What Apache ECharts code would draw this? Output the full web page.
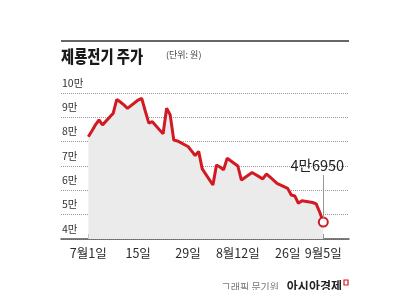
<!DOCTYPE html>
<html><head><meta charset="utf-8">
<script src="https://cdn.jsdelivr.net/npm/echarts@6/dist/echarts.min.js"></script>
<style>html,body{margin:0;padding:0;background:#fff}#c{width:410px;height:290px}</style>
</head><body><div id="c"></div>
<script>
// Trading days (2024) and closing prices (won)
const dates = ['07-01','07-02','07-03','07-04','07-05','07-08','07-09','07-10','07-11','07-12',
  '07-15','07-16','07-17','07-18','07-19','07-22','07-23','07-24','07-25','07-26',
  '07-29','07-30','07-31','08-01','08-02','08-05','08-06','08-07','08-08','08-09',
  '08-12','08-13','08-14','08-16','08-19','08-20','08-21','08-22','08-23',
  '08-26','08-27','08-28','08-29','08-30','09-02','09-03','09-04','09-05'];
const prices = [82000,84400,86900,88900,86900,91700,97400,96300,95100,93700,
  97100,97800,92600,87600,88200,83200,93700,91000,80700,80300,
  78000,76200,74300,76000,68800,62200,70400,69600,68400,73200,
  70000,64200,65300,67300,64700,66700,65500,64200,62900,
  60800,58100,57700,54700,55700,55000,54400,51000,46950];
const xTickDates = ['07-01','07-15','07-29','08-12','08-26','09-05'];
const xTickLabels = ['7월1일','15일','29일','8월12일','26일','9월5일'];
const yTicks = [40000,50000,60000,70000,80000,90000,100000];
const lastLabel = '4만6950';

const base = Date.UTC(2024,6,1);
const dayOf = s => (Date.UTC(2024, +s.slice(0,2)-1, +s.slice(3)) - base)/86400000;
const xs = dates.map(dayOf);
const tickDays = xTickDates.map(dayOf);
const lastX = xs[xs.length-1];
const data = xs.map((x,i)=> i===xs.length-1
  ? {value:[x,prices[i]], symbol:'circle', symbolSize:9,
     itemStyle:{color:'#fff', borderColor:'#d11a22', borderWidth:2}}
  : [x,prices[i]]);

const chart = echarts.init(document.getElementById('c'), null, {renderer:'canvas'});
const F = '"Noto Sans CJK KR", "Noto Sans", sans-serif';
chart.setOption({
  animation:false,
  grid:{left:61, right:61, top:93, bottom:51},
  xAxis:{type:'value', min:-7.667, max:73.22,
    axisLine:{show:true, lineStyle:{color:'#555', width:1.5}},
    axisTick:{show:true, inside:true, length:5, customValues:tickDays, lineStyle:{color:'#777'}},
    axisLabel:{customValues:tickDays, margin:8, fontFamily:F, fontSize:12.5, color:'#2a2a2a',
      formatter:v=>xTickLabels[tickDays.indexOf(v)]},
    splitLine:{show:false}},
  yAxis:{type:'value', min:yTicks[0], max:yTicks[yTicks.length-1], interval:10000,
    axisLine:{show:false}, axisTick:{show:false},
    axisLabel:{inside:true, margin:1, verticalAlign:'bottom', padding:[0,0,5,0],
      fontFamily:F, fontSize:10.5, color:'#333', formatter:v=>(v/10000)+'만'},
    splitLine:{lineStyle:{color:'#999', type:[1,1], width:1}}},
  series:[{type:'line', data:data, showSymbol:true, symbol:'none',
    lineStyle:{color:'#d11a22', width:3}, areaStyle:{color:'#ebebeb', opacity:1, origin:'start'},
    z:3,
    markLine:{silent:true, symbol:'none', animation:false,
      lineStyle:{color:'#999', width:1, type:'solid'},
      label:{show:true, position:'end', formatter:lastLabel, fontFamily:F, fontSize:14.5,
        color:'#222', distance:2, offset:[-6,0]},
      data:[[{coord:[lastX,48600]},{coord:[lastX,66300]}]]}}],
  graphic:[
    {type:'line', shape:{x1:61,y1:41,x2:349,y2:41}, style:{stroke:'#333', lineWidth:1.5}},
    {type:'text', x:61, y:57, scaleX:0.84, style:{text:'제룡전기 주가', font:'900 17px '+F, fill:'#1a1a1a', verticalAlign:'middle'}},
    {type:'text', x:166, y:55, style:{text:'(단위: 원)', font:'9px '+F, fill:'#444', verticalAlign:'middle'}},
    {type:'text', x:279, y:282, style:{text:'그래픽 문기원', font:'10px '+F, fill:'#777', align:'right', verticalAlign:'top'}},
    {type:'text', x:342, y:280, style:{text:'아시아경제', font:'bold 12px '+F, fill:'#222', align:'right', verticalAlign:'top'}},
    {type:'rect', shape:{x:344,y:280,width:4,height:5}, style:{fill:'none', stroke:'#d11a22', lineWidth:1.2}}
  ]
});
</script></body></html>
